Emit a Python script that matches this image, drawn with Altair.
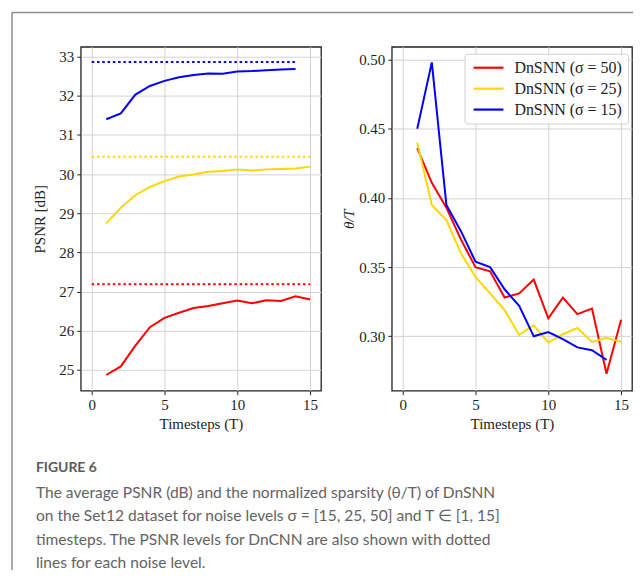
import altair as alt
import pandas as pd

# ---------------- data ----------------
T = list(range(1, 16))
series_labels = ["DnSNN (σ = 50)", "DnSNN (σ = 25)", "DnSNN (σ = 15)"]
series_colors = ["#ff0000", "#ffd700", "#0000ff"]

psnr_50 = [24.87, 25.09, 25.62, 26.09, 26.33, 26.46, 26.58, 26.63, 26.70, 26.77, 26.70, 26.78, 26.76, 26.88, 26.80]
psnr_25 = [28.74, 29.14, 29.46, 29.67, 29.82, 29.94, 29.99, 30.06, 30.08, 30.12, 30.09, 30.12, 30.13, 30.14, 30.19]
psnr_15 = [31.40, 31.55, 32.03, 32.25, 32.38, 32.47, 32.53, 32.57, 32.56, 32.62, 32.63, 32.65, 32.67, 32.68]

dncnn_psnr = [27.19, 30.44, 32.86]
dncnn_start = [0, 0, 0]
dncnn_end = [15, 15, 14]

sparsity_50 = [0.436, 0.411, 0.393, 0.370, 0.350, 0.347, 0.328, 0.331, 0.341, 0.313, 0.328, 0.316, 0.320, 0.273, 0.312]
sparsity_25 = [0.440, 0.395, 0.384, 0.360, 0.343, 0.331, 0.319, 0.301, 0.308, 0.2955, 0.3015, 0.306, 0.296, 0.299, 0.296]
sparsity_15 = [0.450, 0.498, 0.395, 0.376, 0.354, 0.350, 0.334, 0.322, 0.300, 0.303, 0.298, 0.292, 0.290, 0.283]

x_ticks = [0, 5, 10, 15]
psnr_ticks = [25, 26, 27, 28, 29, 30, 31, 32, 33]
sparsity_ticks = [0.30, 0.35, 0.40, 0.45, 0.50]

caption_head = "FIGURE 6"
caption_lines = [
    "The average PSNR (dB) and the normalized sparsity (θ/T) of DnSNN",
    "on the Set12 dataset for noise levels σ = [15, 25, 50] and T ∈ [1, 15]",
    "timesteps. The PSNR levels for DnCNN are also shown with dotted",
    "lines for each noise level.",
]

# ---------------- tables ----------------
def long_table(value_name, lists):
    rows = []
    for lab, vals in zip(series_labels, lists):
        for t, v in zip(T, vals):
            rows.append({"T": t, value_name: v, "series": lab})
    return pd.DataFrame(rows)

psnr_df = long_table("psnr", [psnr_50, psnr_25, psnr_15])
sparsity_df = long_table("sparsity", [sparsity_50, sparsity_25, sparsity_15])
dncnn_df = pd.DataFrame({"series": series_labels, "psnr": dncnn_psnr,
                         "start": dncnn_start, "end": dncnn_end})
one = pd.DataFrame({"k": [0]})

SERIF = "Liberation Serif"
SANS = "Lato"

cscale = alt.Scale(domain=series_labels, range=series_colors)
color = alt.Color("series:N", scale=cscale, sort=series_labels, legend=None)
xscale = alt.Scale(domain=[-0.75, 15.75], nice=False, zero=False)
xaxis = alt.Axis(values=x_ticks, format="d", title="Timesteps (T)", titlePadding=4)

# ---------------- left panel ----------------
yl = alt.Scale(domain=[24.47, 33.25], nice=False, zero=False)
left_lines = alt.Chart(psnr_df).mark_line(strokeWidth=2).encode(
    x=alt.X("T:Q", scale=xscale, axis=xaxis),
    y=alt.Y("psnr:Q", scale=yl, axis=alt.Axis(values=psnr_ticks, format="d",
                                              title="PSNR [dB]", titlePadding=11)),
    color=color,
)
left_dots = alt.Chart(dncnn_df).mark_rule(strokeWidth=2, strokeDash=[2.5, 2.8]).encode(
    x=alt.X("start:Q", scale=xscale),
    x2="end:Q",
    y=alt.Y("psnr:Q", scale=yl),
    color=color,
)

# figure frame and caption (decoration, positioned in pixels)
frame_left = alt.Chart(one).mark_rule(color="#8c8c8c", strokeWidth=1.5).encode(
    x=alt.value(-69), y=alt.value(-34.5), y2=alt.value(525))
frame_top = alt.Chart(one).mark_rule(color="#8c8c8c", strokeWidth=1.5).encode(
    x=alt.value(-69), x2=alt.value(554), y=alt.value(-34.5))
cap_head = alt.Chart(one).mark_text(
    align="left", baseline="alphabetic", font=SANS, fontSize=14, fontWeight="bold",
    color="#5a5a5a").encode(x=alt.value(-45), y=alt.value(426.5), text=alt.value(caption_head))
cap_body = alt.Chart(one).mark_text(
    align="left", baseline="alphabetic", font=SANS, fontSize=15.6, lineHeight=23.5,
    color="#636363").encode(x=alt.value(-45), y=alt.value(452.5), text=alt.value(caption_lines))

left = alt.layer(left_lines, left_dots, frame_left, frame_top, cap_head, cap_body).properties(
    width=241, height=345)

# ---------------- right panel ----------------
yr = alt.Scale(domain=[0.2607, 0.5093], nice=False, zero=False)
right = alt.Chart(sparsity_df).mark_line(strokeWidth=2).encode(
    x=alt.X("T:Q", scale=xscale, axis=xaxis),
    y=alt.Y("sparsity:Q", scale=yr, axis=alt.Axis(values=sparsity_ticks, format=".2f",
                                                  title="θ/T", titleFontStyle="italic",
                                                  titlePadding=2)),
    color=alt.Color("series:N", scale=cscale, sort=series_labels,
                    legend=alt.Legend(title=None, orient="none", legendX=73, legendY=7,
                                      strokeColor="#d0d0d0", fillColor="rgba(255,255,255,0.85)",
                                      padding=6, cornerRadius=3,
                                      symbolType="M-1,0H5", symbolSize=100,
                                      symbolStrokeWidth=2.2,
                                      labelFont=SERIF, labelFontSize=16,
                                      labelColor="#222222", rowPadding=5, labelOffset=28)),
).properties(width=241, height=345)

chart = alt.hconcat(left, right, spacing=71, bounds="flush").resolve_legend(
    color="independent"
).properties(
    padding={"left": 2, "top": 2, "right": 0, "bottom": 0},
    background="white",
).configure_view(
    stroke="#222222", strokeWidth=1.3
).configure_axis(
    grid=True, gridColor="#d2d2d2", gridWidth=1, domain=False,
    tickColor="#222222", tickSize=4, tickWidth=1, labelPadding=3,
    labelFont=SERIF, labelFontSize=15, labelColor="#222222",
    titleFont=SERIF, titleFontSize=15, titleFontWeight="normal", titleColor="#222222",
)

chart.save("out.html", embed_options={"renderer": "svg", "actions": False})
